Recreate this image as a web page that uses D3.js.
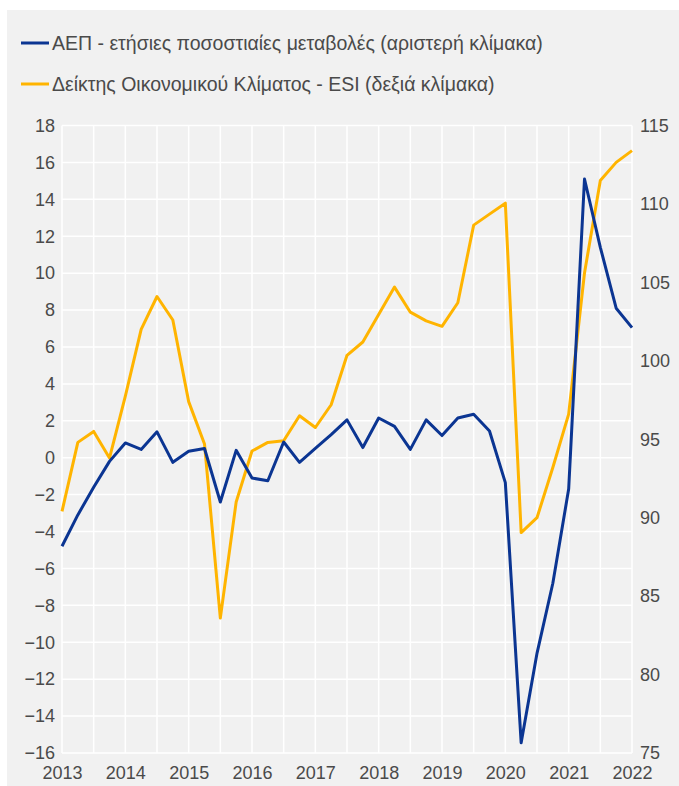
<html>
<head>
<meta charset="utf-8">
<script src="https://d3js.org/d3.v7.min.js"></script>
<style>
  body { margin: 0; background: #fff; }
  text { font-family: "Liberation Sans", Arial, sans-serif; fill: #4a4a4a; }
</style>
</head>
<body>
<script>
// quarterly data, 2013Q1 .. 2022Q1
var start_year = 2013;
var gdp = [-4.8, -3.1, -1.6, -0.2, 0.8, 0.45, 1.4, -0.25, 0.35, 0.5,
           -2.4, 0.4, -1.1, -1.25, 0.85, -0.25, 0.5, 1.25, 2.05, 0.55,
           2.15, 1.7, 0.45, 2.05, 1.2, 2.15, 2.35, 1.45, -1.35, -15.45,
           -10.6, -6.8, -1.7, 15.1, 11.4, 8.1, 7.05];
var esi = [90.4, 94.8, 95.5, 93.8, 97.75, 102.0, 104.1, 102.6, 97.4, 94.7,
           83.6, 91.0, 94.25, 94.8, 94.9, 96.5, 95.75, 97.2, 100.35, 101.2,
           102.95, 104.7, 103.1, 102.55, 102.2, 103.7, 108.65, 109.35, 110.05, 89.05,
           90.0, 93.2, 96.6, 105.6, 111.5, 112.65, 113.4];
var years = [2013, 2014, 2015, 2016, 2017, 2018, 2019, 2020, 2021, 2022];
var left_ticks = d3.range(-16, 19, 2);
var right_ticks = [75, 80, 85, 90, 95, 100, 105, 110, 115];
var legend_labels = ["ΑΕΠ - ετήσιες ποσοστιαίες μεταβολές (αριστερή κλίμακα)",
                     "Δείκτης Οικονομικού Κλίματος - ESI (δεξιά κλίμακα)"];
var colors = ["#0b3592", "#ffb400"];

var width = 679, height = 786;
var m = {left: 62, right: 632, top: 125.5, bottom: 753};

var svg = d3.select('body').append('svg')
    .attr('width', width)
    .attr('height', height);

svg.append('rect')
    .attr('x', 7).attr('y', 10)
    .attr('width', width - 7).attr('height', height - 10)
    .attr('fill', '#f1f1f1');

var x = d3.scaleLinear().domain([2013, 2022]).range([m.left, m.right]);
var yl = d3.scaleLinear().domain([-16, 18]).range([m.bottom, m.top]);
var yr = d3.scaleLinear().domain([75, 115]).range([m.bottom, m.top]);

// grid
var grid = svg.append('g');
grid.selectAll('line.h')
    .data(left_ticks)
    .enter().append('line')
    .attr('x1', m.left).attr('x2', m.right)
    .attr('y1', function (d) { return yl(d); })
    .attr('y2', function (d) { return yl(d); })
    .attr('stroke', '#fff').attr('stroke-width', 1.5);
grid.selectAll('line.v')
    .data(d3.range(2013, 2022.01, 0.5))
    .enter().append('line')
    .attr('x1', function (d) { return x(d); })
    .attr('x2', function (d) { return x(d); })
    .attr('y1', m.top).attr('y2', m.bottom)
    .attr('stroke', '#fff').attr('stroke-width', 1.5);

// axes
var axis_left = d3.axisLeft(yl).tickValues(left_ticks).tickSize(0).tickPadding(7);
var axis_right = d3.axisRight(yr).tickValues(right_ticks).tickSize(0).tickPadding(8);
var axis_bottom = d3.axisBottom(x).tickValues(years).tickFormat(d3.format('d')).tickSize(0).tickPadding(13);

[svg.append('g').attr('transform', 'translate(' + m.left + ',0)').call(axis_left),
 svg.append('g').attr('transform', 'translate(' + m.right + ',0)').call(axis_right),
 svg.append('g').attr('transform', 'translate(0,' + m.bottom + ')').call(axis_bottom)]
    .forEach(function (g) {
        g.select('.domain').remove();
        g.selectAll('text').style('font-size', '18px')
            .style('font-family', '"Liberation Sans", Arial, sans-serif')
            .attr('fill', '#4a4a4a');
    });

function qx(i) { return x(start_year + i / 4); }

svg.append('path')
    .datum(esi)
    .attr('fill', 'none')
    .attr('stroke', colors[1])
    .attr('stroke-width', 3)
    .attr('stroke-linejoin', 'round')
    .attr('d', d3.line().x(function (d, i) { return qx(i); }).y(function (d) { return yr(d); }));

svg.append('path')
    .datum(gdp)
    .attr('fill', 'none')
    .attr('stroke', colors[0])
    .attr('stroke-width', 3)
    .attr('stroke-linejoin', 'round')
    .attr('d', d3.line().x(function (d, i) { return qx(i); }).y(function (d) { return yl(d); }));

// legend
var lg = svg.selectAll('g.legend')
    .data(legend_labels)
    .enter().append('g')
    .attr('transform', function (d, i) { return 'translate(21,' + (43 + i * 41) + ')'; });
lg.append('line')
    .attr('x1', 0).attr('x2', 28)
    .attr('stroke', function (d, i) { return colors[i]; })
    .attr('stroke-width', 3);
lg.append('text')
    .attr('x', 31).attr('y', 0).attr('dy', '0.35em')
    .style('font-size', '19.5px')
    .text(function (d) { return d; });
</script>
</body>
</html>
